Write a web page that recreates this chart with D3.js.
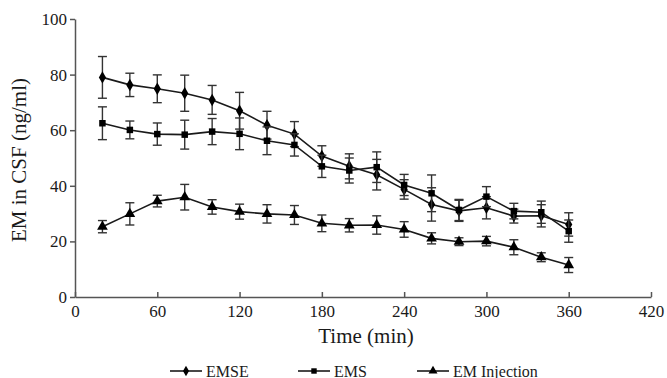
<!DOCTYPE html>
<html>
<head>
<meta charset="utf-8">
<script src="https://cdn.jsdelivr.net/npm/d3@7"></script>
<style>
html,body{margin:0;padding:0;background:#fff;}
svg{display:block;}
svg text{font-family:"Liberation Serif","DejaVu Serif",serif;}
</style>
</head>
<body>
<svg id="chart" width="667" height="378"></svg>
<script>
const times = [20,40,60,80,100,120,140,160,180,200,220,240,260,280,300,320,340,360];
const emse = [79.0,76.3,74.9,73.3,70.9,67.0,61.8,58.6,50.7,47.0,44.0,38.7,33.3,31.0,32.1,29.1,29.2,26.1];
const emseErr = [7.5,4.2,5.0,6.5,5.2,6.6,5.0,4.5,3.7,4.5,5.5,3.5,6.0,3.8,4.0,2.5,4.0,4.2];
const ems = [62.5,60.1,58.6,58.4,59.5,58.7,56.2,54.7,47.0,45.5,46.7,40.3,37.3,31.3,36.1,30.9,30.5,23.7];
const emsErr = [5.9,3.2,4.0,5.2,4.7,5.7,5.0,4.0,4.0,4.5,5.5,3.8,6.6,3.8,3.6,2.8,4.0,4.0];
const emi = [25.3,29.9,34.5,35.9,32.4,30.7,29.9,29.5,26.5,25.8,25.9,24.3,21.1,19.9,20.1,17.9,14.3,11.5];
const emiErr = [2.2,4.0,2.1,4.6,2.6,2.7,3.3,3.4,3.0,2.4,3.3,2.8,2.0,1.4,1.7,2.7,1.6,2.7];
const xTicks = [0,60,120,180,240,300,360,420];
const yTicks = [0,20,40,60,80,100];
const seriesNames = ["EMSE","EMS","EM Injection"];

const FONT = "Liberation Serif";
const svg = d3.select("#chart");
const x = d3.scaleLinear().domain([0,420]).range([75,651]);
const y = d3.scaleLinear().domain([0,100]).range([297,19]);
const ink = "#1a1a1a";

// axes
const yAxis = svg.append("g").attr("transform","translate(75,0)")
  .call(d3.axisLeft(y).tickValues(yTicks).tickSize(5).tickSizeOuter(0).tickPadding(3));
const xAxis = svg.append("g").attr("transform","translate(0,297)")
  .call(d3.axisBottom(x).tickValues(xTicks).tickSize(-5).tickSizeOuter(0).tickPadding(8));
[yAxis,xAxis].forEach(g=>{
  g.attr("font-family",FONT).attr("font-size",17);
  g.selectAll("path,line").attr("stroke","#555").attr("stroke-width",1.5);
  g.selectAll("text").attr("fill",ink).attr("font-family",FONT).attr("font-size",17);
});

// titles
svg.append("text").attr("x",366).attr("y",343).attr("text-anchor","middle")
  .attr("font-family",FONT).attr("font-size",21)
  .attr("fill",ink).text("Time (min)");
svg.append("text").attr("transform","translate(26,160) rotate(-90)").attr("text-anchor","middle")
  .attr("font-family",FONT).attr("font-size",21)
  .attr("fill",ink).text("EM in CSF (ng/ml)");

const symbols = [d3.symbolDiamond, d3.symbolSquare, d3.symbolTriangle];
const symSizes = [45, 42, 50];
const data = [
  {vals: emse, errs: emseErr},
  {vals: ems, errs: emsErr},
  {vals: emi, errs: emiErr}
];

const line = d3.line().x(d=>x(d.t)).y(d=>y(d.v));
data.forEach((s,si)=>{
  const pts = times.map((t,i)=>({t, v:s.vals[i], e:s.errs[i]}));
  const g = svg.append("g");
  const eb = g.selectAll("g.eb").data(pts).enter().append("g");
  eb.append("line").attr("x1",d=>x(d.t)).attr("x2",d=>x(d.t))
    .attr("y1",d=>y(d.v+d.e)).attr("y2",d=>y(d.v-d.e));
  eb.append("line").attr("x1",d=>x(d.t)-4.5).attr("x2",d=>x(d.t)+4.5)
    .attr("y1",d=>y(d.v+d.e)).attr("y2",d=>y(d.v+d.e));
  eb.append("line").attr("x1",d=>x(d.t)-4.5).attr("x2",d=>x(d.t)+4.5)
    .attr("y1",d=>y(d.v-d.e)).attr("y2",d=>y(d.v-d.e));
  eb.selectAll("line").attr("stroke","#333").attr("stroke-width",1.4);
  g.append("path").attr("d",line(pts)).attr("fill","none").attr("stroke",ink).attr("stroke-width",1.6);
  g.selectAll("path.m").data(pts).enter().append("path")
    .attr("transform",d=>`translate(${x(d.t)},${y(d.v)})`)
    .attr("d",d3.symbol().type(symbols[si]).size(symSizes[si])).attr("fill","#000");
});

// legend
const legX = [170, 298, 417];
const legY = 371;
seriesNames.forEach((name,i)=>{
  const g = svg.append("g");
  g.append("line").attr("x1",legX[i]).attr("x2",legX[i]+32).attr("y1",legY).attr("y2",legY)
    .attr("stroke",ink).attr("stroke-width",1.6);
  g.append("path").attr("transform",`translate(${legX[i]+16},${legY})`)
    .attr("d",d3.symbol().type(symbols[i]).size(symSizes[i]*0.7)).attr("fill","#000");
  g.append("text").attr("x",legX[i]+36).attr("y",legY+5.5).attr("fill",ink)
    .attr("font-family",FONT).attr("font-size",16).text(name);
});
</script>
</body>
</html>
